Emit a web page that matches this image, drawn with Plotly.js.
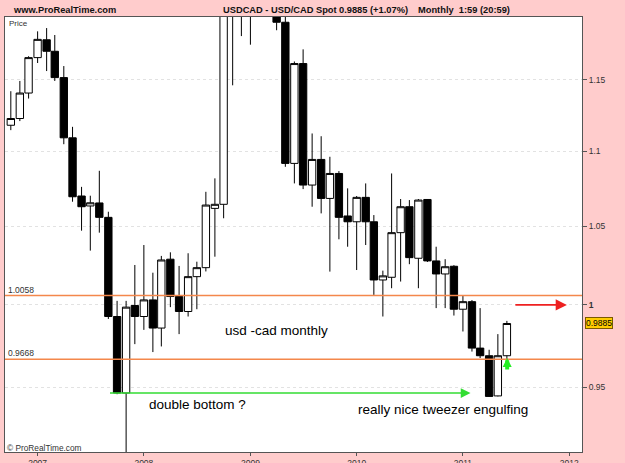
<!DOCTYPE html>
<html><head><meta charset="utf-8">
<script src="https://cdn.plot.ly/plotly-3.0.1.min.js"></script>
<style>html,body{margin:0;padding:0;background:#FFCCCC;}#chart{width:625px;height:463px;}</style>
</head><body><div id="chart"></div>
<script>
const months = [
 '2006-10-01','2006-11-01','2006-12-01',
 '2007-01-01','2007-02-01','2007-03-01','2007-04-01','2007-05-01','2007-06-01','2007-07-01','2007-08-01','2007-09-01','2007-10-01','2007-11-01','2007-12-01',
 '2008-01-01','2008-02-01','2008-03-01','2008-04-01','2008-05-01','2008-06-01','2008-07-01','2008-08-01','2008-09-01','2008-10-01','2008-11-01','2008-12-01',
 '2009-01-01','2009-02-01','2009-03-01','2009-04-01','2009-05-01','2009-06-01','2009-07-01','2009-08-01','2009-09-01','2009-10-01','2009-11-01','2009-12-01',
 '2010-01-01','2010-02-01','2010-03-01','2010-04-01','2010-05-01','2010-06-01','2010-07-01','2010-08-01','2010-09-01','2010-10-01','2010-11-01','2010-12-01',
 '2011-01-01','2011-02-01','2011-03-01','2011-04-01','2011-05-01','2011-06-01'];
const openP = [
 1.1181,1.1228,1.1407,
 1.1661,1.1791,1.1707,1.1517,1.1094,1.0700,1.0634,1.0654,1.0559,0.9928,0.9467,0.9996,
 0.9928,1.0031,0.9857,1.0288,1.0052,0.9959,1.0177,1.0234,1.0618,1.0645,1.2061,1.2385,
 1.2185,1.2285,1.2725,1.2610,1.1920,1.0919,1.1618,1.0773,1.0946,1.0684,1.0851,1.0568,
 1.0530,1.0691,1.0530,1.0156,1.0173,1.0459,1.0629,1.0294,1.0677,1.0277,1.0194,1.0243,
 0.9973,1.0020,0.9735,0.9689,0.9450,0.9689];
const highP = [
 1.1420,1.1493,1.1671,
 1.1853,1.1877,1.1826,1.1600,1.1170,1.0761,1.0702,1.0869,1.0596,1.0025,1.0025,1.0251,
 1.0379,1.0202,1.0309,1.0332,1.0245,1.0326,1.0272,1.0728,1.0818,1.2965,1.2935,1.3017,
 1.2750,1.2850,1.3065,1.2650,1.2010,1.1633,1.1721,1.1124,1.1105,1.0964,1.0867,1.0751,
 1.0700,1.0784,1.0574,1.0215,1.0851,1.0680,1.0673,1.0680,1.0680,1.0368,1.0288,1.0250,
 1.0056,1.0030,0.9980,0.9725,0.9820,0.9901];
const lowP = [
 1.1147,1.1210,1.1368,
 1.1622,1.1564,1.1493,1.1050,1.0662,1.0472,1.0343,1.0459,0.9913,0.9460,0.9057,0.9759,
 0.9846,0.9711,0.9745,0.9986,0.9820,0.9928,0.9973,1.0210,1.0304,1.0553,1.1462,1.1818,
 1.1755,1.2150,1.2245,1.1861,1.0896,1.0784,1.0746,1.0629,1.0585,1.0209,1.0416,1.0368,
 1.0219,1.0379,1.0062,0.9928,1.0104,1.0146,1.0256,1.0104,1.0270,0.9980,0.9980,0.9934,
 0.9836,0.9714,0.9675,0.9444,0.9447,0.9669];
const closeP = [
 1.1228,1.1407,1.1661,
 1.1794,1.1707,1.1517,1.1094,1.0695,1.0629,1.0655,1.0559,0.9928,0.9467,0.9986,0.9928,
 1.0031,0.9857,1.0283,1.0052,0.9959,1.0177,1.0234,1.0640,1.0645,1.2061,1.2385,1.2185,
 1.2285,1.2725,1.2610,1.1920,1.0919,1.1618,1.0773,1.0946,1.0684,1.0851,1.0559,1.0530,
 1.0691,1.0530,1.0156,1.0182,1.0459,1.0629,1.0298,1.0673,1.0277,1.0194,1.0240,0.9973,
 1.0020,0.9735,0.9689,0.9447,0.9689,0.9885];
const priceTicks = [0.95, 1, 1.05, 1.1, 1.15];
const priceTickText = ['0.95', '<b>1</b>', '1.05', '1.1', '1.15'];
const yearTicks = ['2007-01-01','2008-01-01','2009-01-01','2010-01-01','2011-01-01','2012-01-01'];
const yearTickText = ['2007','2008','2009','2010','2011','2012'];
const levels = [1.0058, 0.9668];
const levelText = ['1.0058', '0.9668'];
const lastPrice = 0.9885;
const doubleBottom = 0.9467;
const arrowLevel = 1.0;

const FONT = 'Liberation Sans, Arial, sans-serif';
const L = Math.log10;

const trace = {
  type: 'candlestick', x: months, open: openP, high: highP, low: lowP, close: closeP,
  increasing: {line: {color: '#000000', width: 1}, fillcolor: '#FFFFFF'},
  decreasing: {line: {color: '#000000', width: 1}, fillcolor: '#000000'},
  whiskerwidth: 0, hoverinfo: 'skip', showlegend: false
};

const px = X => (X - 5) / 577;
const py = Y => (452 - Y) / 435;

const annotations = [
  {xref:'paper', yref:'paper', x:px(11), y:py(9.5), xanchor:'left', yanchor:'middle', showarrow:false,
   text:'<b>www.ProRealTime.com</b>', font:{family:FONT, size:9.3, color:'#111'}},
  {xref:'paper', yref:'paper', x:px(221), y:py(9.5), xanchor:'left', yanchor:'middle', showarrow:false,
   text:'<b>USDCAD - USD/CAD Spot</b>', font:{family:FONT, size:9.3, color:'#111'}},
  {xref:'paper', yref:'paper', x:px(337), y:py(9.5), xanchor:'left', yanchor:'middle', showarrow:false,
   text:'<b>' + lastPrice.toFixed(4) + ' (+1.07%)</b>', font:{family:FONT, size:9.3, color:'#111'}},
  {xref:'paper', yref:'paper', x:px(416), y:py(9.5), xanchor:'left', yanchor:'middle', showarrow:false,
   text:'<b>Monthly  1:59 (20:59)</b>', font:{family:FONT, size:9.3, color:'#111'}},
  {xref:'paper', yref:'paper', x:px(7), y:py(23), xanchor:'left', yanchor:'middle', showarrow:false,
   text:'Price', font:{family:FONT, size:8, color:'#333'}},
  {xref:'paper', yref:'paper', x:px(5), y:py(448), xanchor:'left', yanchor:'middle', showarrow:false,
   text:'© ProRealTime.com', font:{family:FONT, size:8.3, color:'#333'}},
  {xref:'paper', yref:'paper', x:px(223), y:py(330.5), xanchor:'left', yanchor:'middle', showarrow:false,
   text:'usd -cad monthly', font:{family:FONT, size:13.5, color:'#000'}},
  {xref:'paper', yref:'paper', x:px(147), y:py(404), xanchor:'left', yanchor:'middle', showarrow:false,
   text:'double bottom ?', font:{family:FONT, size:13.5, color:'#000'}},
  {xref:'paper', yref:'paper', x:px(356), y:py(409.5), xanchor:'left', yanchor:'middle', showarrow:false,
   text:'really nice tweezer engulfing', font:{family:FONT, size:13.5, color:'#000'}},
  // price box
  {xref:'paper', yref:'y', x:1, xanchor:'left', xshift:3, y:L(lastPrice), yanchor:'middle', showarrow:false,
   text:lastPrice.toFixed(4), bgcolor:'#FFCC00', bordercolor:'#7A5A00', borderwidth:1, borderpad:0,
   font:{family:FONT, size:8.5, color:'#000'}},
  // green horizontal arrow
  {xref:'x', yref:'y', x:'2011-01-27', y:L(doubleBottom), ax:-362, ay:0, showarrow:true, text:'',
   arrowhead:2, arrowsize:1.3, arrowwidth:1.5, arrowcolor:'#33DD33', standoff:0, startstandoff:0},
  // red arrow
  {xref:'x', yref:'y', x:'2011-12-24', y:L(arrowLevel), ax:-53, ay:0, showarrow:true, text:'',
   arrowhead:2, arrowsize:1.4, arrowwidth:1.6, arrowcolor:'#EE2020', standoff:0, startstandoff:0},
  // green up arrow
  {xref:'x', yref:'y', x:'2011-06-02', y:L(0.9676), ax:0, ay:13, showarrow:true, text:'',
   arrowhead:2, arrowsize:0.45, arrowwidth:4, arrowcolor:'#22EE22', standoff:0, startstandoff:0}
];
levels.forEach((v, i) => {
  annotations.push({xref:'paper', yref:'y', x:px(7), y:L(v), xanchor:'left', yanchor:'bottom', showarrow:false,
    text:levelText[i], font:{family:FONT, size:8.5, color:'#333'}, borderpad:0});
});

const shapes = levels.map(v => ({type:'line', xref:'paper', x0:0, x1:1, yref:'y', y0:v, y1:v,
  line:{color:'#F4874B', width:1.5}, layer:'above'}));

const layout = {
  width: 625, height: 463,
  margin: {l:5, r:43, t:17, b:11, pad:0},
  paper_bgcolor: '#FFCCCC', plot_bgcolor: '#FFFFFF',
  showlegend: false, boxgap: 0.05, boxgroupgap: 0.05,
  font: {family: FONT, size: 8.5, color: '#333'},
  xaxis: {type:'date', range:['2006-09-11','2012-02-14'], tickvals:yearTicks, ticktext:yearTickText,
    ticks:'outside', ticklen:3, tickcolor:'#555', showgrid:false, zeroline:false,
    showline:true, mirror:true, linecolor:'#555', linewidth:1, rangeslider:{visible:false},
    tickfont:{family:FONT, size:8.5, color:'#333'}, automargin:false, fixedrange:true},
  yaxis: {type:'log', side:'right', range:[L(0.91263), L(1.1959)], tickvals:priceTicks, ticktext:priceTickText,
    ticks:'outside', ticklen:4, tickcolor:'#555', showgrid:true, gridcolor:'#E2E2E2', griddash:'dot', gridwidth:1,
    zeroline:false, showline:true, mirror:true, linecolor:'#555', linewidth:1,
    tickfont:{family:FONT, size:8.5, color:'#333'}, automargin:false, fixedrange:true},
  shapes: shapes, annotations: annotations
};
Plotly.newPlot('chart', [trace], layout, {displayModeBar:false, staticPlot:true});
</script></body></html>
